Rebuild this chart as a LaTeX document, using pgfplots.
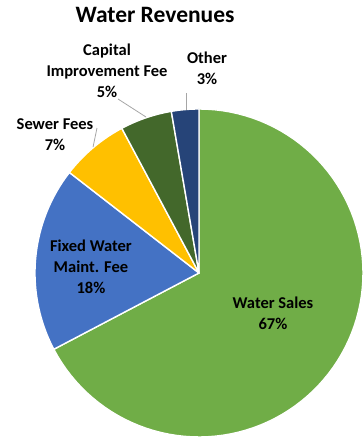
\documentclass[border=0pt]{standalone}
\usepackage{pgfplots}
\pgfplotsset{compat=1.18}
\usepackage{pgfplotstable}
\usepackage{fontspec}
\setmainfont{Carlito}
\definecolor{cSales}{HTML}{70AD47}
\definecolor{cFixed}{HTML}{4472C4}
\definecolor{cSewer}{HTML}{FFC000}
\definecolor{cCapital}{HTML}{43682B}
\definecolor{cOther}{HTML}{264478}
\definecolor{cLeader}{HTML}{A6A6A6}

\pgfplotstableread{
label value
Sales 67.3
Fixed 18.2
Sewer 6.7
Capital 5.1
Other 2.7
}\revtable

\begin{document}
\begin{tikzpicture}
\pgfplotstablegetelem{0}{value}\of\revtable \pgfmathsetmacro{\vA}{\pgfplotsretval}
\pgfplotstablegetelem{1}{value}\of\revtable \pgfmathsetmacro{\vB}{\pgfplotsretval}
\pgfplotstablegetelem{2}{value}\of\revtable \pgfmathsetmacro{\vC}{\pgfplotsretval}
\pgfplotstablegetelem{3}{value}\of\revtable \pgfmathsetmacro{\vD}{\pgfplotsretval}
\pgfplotstablegetelem{4}{value}\of\revtable \pgfmathsetmacro{\vE}{\pgfplotsretval}
\pgfmathsetmacro{\aO}{90}
\pgfmathsetmacro{\aA}{\aO-3.6*\vA}
\pgfmathsetmacro{\aB}{\aA-3.6*\vB}
\pgfmathsetmacro{\aC}{\aB-3.6*\vC}
\pgfmathsetmacro{\aD}{\aC-3.6*\vD}
\pgfmathsetmacro{\aE}{\aD-3.6*\vE}
\begin{axis}[
  x=164pt, y=164pt,
  xmin=-1.2134, xmax=0.9939, ymin=-1.0122, ymax=1.6646,
  hide axis, clip=false,
  every axis plot/.append style={draw=white, line width=1.4pt, samples=90, line join=round},
]
\path (axis cs:-1.2134,-1.0122) rectangle (axis cs:0.9939,1.6646);
\addplot[fill=cSales, domain=\aA:\aO] ({cos(x)},{sin(x)}) -- (axis cs:0,0) -- cycle;
\addplot[fill=cFixed, domain=\aB:\aA] ({cos(x)},{sin(x)}) -- (axis cs:0,0) -- cycle;
\addplot[fill=cSewer, domain=\aC:\aB] ({cos(x)},{sin(x)}) -- (axis cs:0,0) -- cycle;
\addplot[fill=cCapital, domain=\aD:\aC] ({cos(x)},{sin(x)}) -- (axis cs:0,0) -- cycle;
\addplot[fill=cOther, domain=\aE:\aD] ({cos(x)},{sin(x)}) -- (axis cs:0,0) -- cycle;

\draw[cLeader, line width=0.8pt] (axis cs:-0.494,1.061) -- (axis cs:-0.323,0.951);
\draw[cLeader, line width=0.8pt] (axis cs:-0.079,1.098) -- (axis cs:-0.079,0.996);
\draw[cLeader, line width=0.8pt] (axis cs:-0.622,0.884) -- (axis cs:-0.646,0.768);

\node[font=\fontsize{23.5}{27}\selectfont\bfseries] at (axis cs:-0.268,1.573) {Water Revenues};
\node[align=center, font=\fontsize{16.5}{21}\selectfont\bfseries] at (axis cs:-0.561,1.232) {Capital\\Improvement Fee\\5\%};
\node[align=center, font=\fontsize{16.5}{21}\selectfont\bfseries] at (axis cs:0.049,1.250) {Other\\3\%};
\node[align=center, font=\fontsize{16.5}{21}\selectfont\bfseries] at (axis cs:-0.878,0.841) {Sewer Fees\\7\%};
\node[align=center, font=\fontsize{16.5}{21}\selectfont\bfseries] at (axis cs:-0.659,0.037) {Fixed Water\\Maint. Fee\\18\%};
\node[align=center, font=\fontsize{16.5}{21}\selectfont\bfseries] at (axis cs:0.451,-0.244) {Water Sales\\67\%};
\end{axis}
\end{tikzpicture}
\end{document}
